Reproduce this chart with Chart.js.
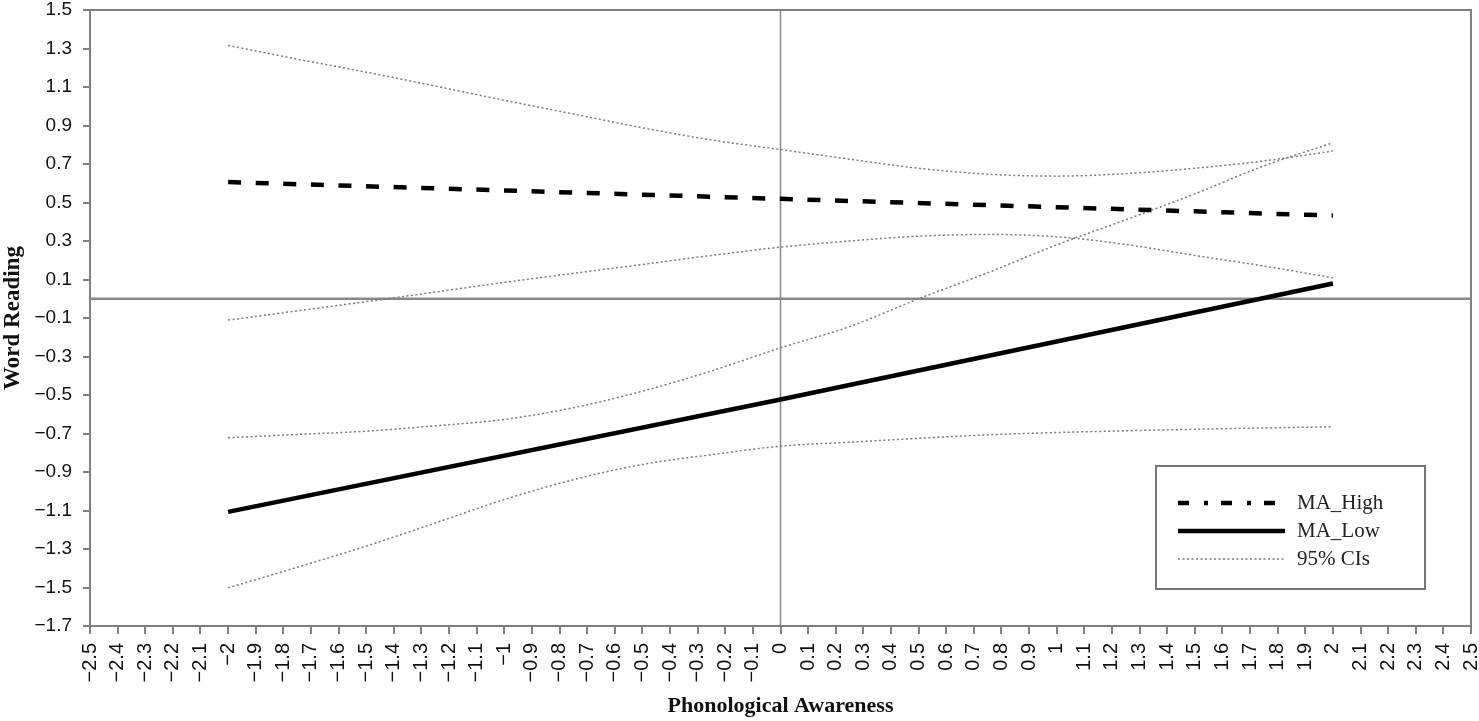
<!DOCTYPE html>
<html>
<head>
<meta charset="utf-8">
<script src="https://cdn.jsdelivr.net/npm/chart.js@4.4.0/dist/chart.umd.min.js"></script>
<style>
  html, body { margin: 0; padding: 0; background: #fff; }
</style>
</head>
<body>
<canvas id="myChart" width="1479" height="721"></canvas>
<script>
// values
var ciX = [-2, -1.75, -1.5, -1.25, -1, -0.75, -0.5, -0.25, 0, 0.25, 0.5, 0.75, 1, 1.25, 1.5, 1.75, 2];
var lineX = [-2, 0, 2];

var maHigh = [0.606, 0.519, 0.432];
var maLow = [-1.107, -0.523, 0.079];

var highUpper = [1.316, 1.245, 1.177, 1.105, 1.031, 0.960, 0.888, 0.825, 0.775, 0.725, 0.678, 0.647, 0.637, 0.650, 0.678, 0.716, 0.767];
var highLower = [-0.111, -0.063, -0.015, 0.035, 0.085, 0.132, 0.178, 0.225, 0.268, 0.300, 0.325, 0.334, 0.322, 0.282, 0.225, 0.170, 0.109];
var lowUpper = [-0.722, -0.705, -0.688, -0.660, -0.627, -0.566, -0.480, -0.375, -0.255, -0.145, 0.000, 0.135, 0.280, 0.410, 0.545, 0.690, 0.810];
var lowLower = [-1.502, -1.395, -1.285, -1.165, -1.043, -0.940, -0.861, -0.810, -0.766, -0.745, -0.725, -0.707, -0.695, -0.686, -0.678, -0.671, -0.665];

var xTickValues = [-2.5, -2.4, -2.3, -2.2, -2.1, -2, -1.9, -1.8, -1.7, -1.6, -1.5, -1.4, -1.3, -1.2, -1.1, -1,
  -0.9, -0.8, -0.7, -0.6, -0.5, -0.4, -0.3, -0.2, -0.1, 0, 0.1, 0.2, 0.3, 0.4, 0.5, 0.6, 0.7, 0.8, 0.9, 1,
  1.1, 1.2, 1.3, 1.4, 1.5, 1.6, 1.7, 1.8, 1.9, 2, 2.1, 2.2, 2.3, 2.4, 2.5];
var yTickValues = [-1.7, -1.5, -1.3, -1.1, -0.9, -0.7, -0.5, -0.3, -0.1, 0.1, 0.3, 0.5, 0.7, 0.9, 1.1, 1.3, 1.5];

var legendLabels = ['MA_High', 'MA_Low', '95% CIs'];

function pts(xs, ys) {
    return xs.map(function(x, i) { return {x: x, y: ys[i]}; });
}

function minusSign(v) {
    return String(v).replace('-', '\u2212');
}

var ciStyle = {borderColor: '#7a7a7a', borderWidth: 1.5, borderDash: [2, 2.5], cubicInterpolationMode: 'monotone'};

var datasets = [
    {label: legendLabels[0], data: pts(lineX, maHigh), borderColor: '#000', borderWidth: 4.5, borderDash: [13, 14.6], legendDash: [11, 15, 4, 13]},
    {label: legendLabels[1], data: pts(lineX, maLow), borderColor: '#000', borderWidth: 4.5},
    Object.assign({label: legendLabels[2], data: pts(ciX, highUpper)}, ciStyle),
    Object.assign({label: legendLabels[2], data: pts(ciX, highLower)}, ciStyle),
    Object.assign({label: legendLabels[2], data: pts(ciX, lowUpper)}, ciStyle),
    Object.assign({label: legendLabels[2], data: pts(ciX, lowLower)}, ciStyle)
];

// plot frame plus the zero reference lines
var framePlugin = {
    id: 'frame',
    beforeDatasetsDraw: function(chart) {
        var ctx = chart.ctx, a = chart.chartArea;
        var x0 = chart.scales.x.getPixelForValue(0);
        var y0 = chart.scales.y.getPixelForValue(0);
        ctx.save();
        ctx.strokeStyle = '#888';
        ctx.lineWidth = 2.5;
        ctx.beginPath();
        ctx.moveTo(a.left, y0);
        ctx.lineTo(a.right, y0);
        ctx.stroke();
        ctx.lineWidth = 1.5;
        ctx.beginPath();
        ctx.moveTo(x0, a.top);
        ctx.lineTo(x0, a.bottom);
        ctx.stroke();
        ctx.strokeStyle = '#808080';
        ctx.lineWidth = 2;
        ctx.strokeRect(a.left, a.top, a.right - a.left, a.bottom - a.top);
        ctx.restore();
    }
};

// boxed legend inside the lower right of the plot
var boxLegend = {
    id: 'boxLegend',
    afterDraw: function(chart) {
        var ctx = chart.ctx, a = chart.chartArea;
        var ds = chart.data.datasets;
        var left = a.right - 315, top = a.bottom - 160;
        ctx.save();
        ctx.fillStyle = '#fff';
        ctx.fillRect(left, top, 269, 123);
        ctx.strokeStyle = '#777';
        ctx.lineWidth = 2;
        ctx.strokeRect(left, top, 269, 123);
        [0, 1, 2].forEach(function(i) {
            var d = ds[i];
            var y = top + 37 + i * 28;
            ctx.strokeStyle = d.borderColor;
            ctx.lineWidth = d.borderWidth;
            ctx.setLineDash(d.legendDash || d.borderDash || []);
            ctx.beginPath();
            ctx.moveTo(left + 22, y);
            ctx.lineTo(left + 129, y);
            ctx.stroke();
            ctx.setLineDash([]);
            ctx.fillStyle = '#222';
            ctx.font = '21px "Liberation Serif", serif';
            ctx.textBaseline = 'middle';
            ctx.fillText(legendLabels[i], left + 141, y);
        });
        ctx.restore();
    }
};

var ctx = document.getElementById('myChart').getContext('2d');
var chart = new Chart(ctx, {
    type: 'line',
    data: {datasets: datasets},
    options: {
        responsive: false,
        animation: false,
        layout: {padding: 0},
        elements: {point: {radius: 0}, line: {tension: 0}},
        plugins: {legend: {display: false}, tooltip: {enabled: false}},
        scales: {
            x: {
                type: 'linear',
                min: -2.5,
                max: 2.5,
                afterBuildTicks: function(s) { s.ticks = xTickValues.map(function(v) { return {value: v}; }); },
                afterFit: function(s) { s.height = 95; s.paddingLeft = 0; s.paddingRight = 8; },
                ticks: {
                    autoSkip: false,
                    minRotation: 90,
                    maxRotation: 90,
                    padding: 9,
                    color: '#111',
                    font: {family: '"Liberation Sans", Arial, sans-serif', size: 20},
                    callback: function(v) { return minusSign(v); }
                },
                grid: {drawOnChartArea: false, tickLength: 8, color: '#808080', lineWidth: 2},
                border: {display: false},
                title: {
                    display: true,
                    text: 'Phonological Awareness',
                    color: '#111',
                    font: {family: '"Liberation Serif", serif', size: 22, weight: 'bold', lineHeight: 1},
                    padding: {top: 0, bottom: 4}
                }
            },
            y: {
                min: -1.7,
                max: 1.5,
                afterBuildTicks: function(s) { s.ticks = yTickValues.map(function(v) { return {value: v}; }); },
                afterFit: function(s) { s.width = 90; s.paddingTop = 10; s.paddingBottom = 0; },
                ticks: {
                    padding: 11,
                    color: '#111',
                    font: {family: '"Liberation Sans", Arial, sans-serif', size: 19},
                    callback: function(v) { return minusSign(v); }
                },
                grid: {drawOnChartArea: false, tickLength: 7, color: '#808080', lineWidth: 2},
                border: {display: false},
                title: {
                    display: true,
                    text: 'Word Reading',
                    color: '#111',
                    font: {family: '"Liberation Serif", serif', size: 23, weight: 'bold', lineHeight: 1},
                    padding: {top: 2, bottom: 0}
                }
            }
        }
    },
    plugins: [framePlugin, boxLegend]
});
</script>
</body>
</html>
